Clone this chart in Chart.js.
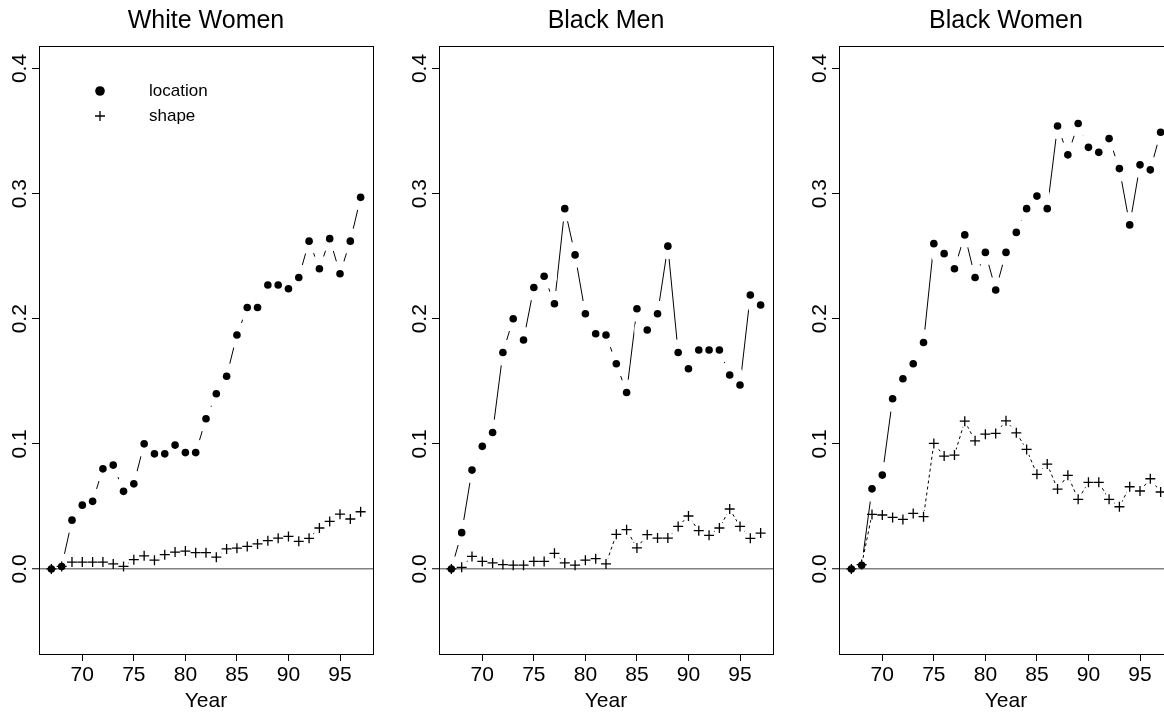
<!DOCTYPE html>
<html>
<head>
<meta charset="utf-8">
<title>Location and shape components by year</title>
<script src="https://cdn.jsdelivr.net/npm/chart.js@4.4.1/dist/chart.umd.min.js"></script>
<style>
  html, body { margin: 0; padding: 0; background: #fff; }
  #page { position: relative; width: 1164px; height: 714px; overflow: hidden; }
  #page canvas { position: absolute; top: 0; }
</style>
</head>
<body>
<div id="page">
  <canvas id="whiteWomen" width="400" height="714" style="left:0px"></canvas>
  <canvas id="blackMen" width="400" height="714" style="left:400px"></canvas>
  <canvas id="blackWomen" width="400" height="714" style="left:800px"></canvas>
</div>
<script>
// ==========================================
// DATA
// ==========================================

const years = [67, 68, 69, 70, 71, 72, 73, 74, 75, 76, 77, 78, 79, 80, 81, 82,
               83, 84, 85, 86, 87, 88, 89, 90, 91, 92, 93, 94, 95, 96, 97];

const whiteWomenLocation = [0.000, 0.002, 0.039, 0.051, 0.054, 0.080, 0.083, 0.062, 0.068, 0.100, 0.092,
                            0.092, 0.099, 0.093, 0.093, 0.120, 0.140, 0.154, 0.187, 0.209, 0.209,
                            0.227, 0.227, 0.224, 0.233, 0.262, 0.240, 0.264, 0.236, 0.262, 0.297];
const whiteWomenShape = [0.000, 0.002, 0.0055, 0.0055, 0.0055, 0.0055, 0.004, 0.002, 0.0074, 0.0105, 0.007,
                         0.0114, 0.0135, 0.0143, 0.013, 0.013, 0.0094, 0.016, 0.0166, 0.018, 0.020,
                         0.0226, 0.0246, 0.026, 0.0221, 0.0245, 0.0327, 0.038, 0.0438, 0.0399, 0.0457];

const blackMenLocation = [0.000, 0.029, 0.079, 0.098, 0.109, 0.173, 0.200, 0.183, 0.225, 0.234, 0.212,
                          0.288, 0.251, 0.204, 0.188, 0.187, 0.164, 0.141, 0.208, 0.191, 0.204,
                          0.258, 0.173, 0.160, 0.175, 0.175, 0.175, 0.155, 0.147, 0.219, 0.211];
const blackMenShape = [0.000, 0.0013, 0.010, 0.006, 0.0048, 0.0035, 0.003, 0.003, 0.006, 0.006, 0.0125,
                       0.0048, 0.003, 0.007, 0.0082, 0.004, 0.0277, 0.0314, 0.0168, 0.0274, 0.0247,
                       0.0247, 0.034, 0.0423, 0.0306, 0.0269, 0.0327, 0.0479, 0.034, 0.0245, 0.0287];

const blackWomenLocation = [0.000, 0.003, 0.064, 0.075, 0.136, 0.152, 0.164, 0.181, 0.260, 0.252, 0.240,
                            0.267, 0.233, 0.253, 0.223, 0.253, 0.269, 0.288, 0.298, 0.288, 0.354,
                            0.331, 0.356, 0.337, 0.333, 0.344, 0.320, 0.275, 0.323, 0.319, 0.349];
const blackWomenShape = [0.000, 0.0035, 0.0436, 0.0431, 0.0412, 0.0396, 0.0444, 0.0418, 0.1003, 0.0902, 0.091,
                         0.1181, 0.1024, 0.1077, 0.1083, 0.1184, 0.1088, 0.0955, 0.0756, 0.0838, 0.0638,
                         0.0748, 0.0556, 0.0692, 0.0692, 0.0556, 0.0497, 0.0657, 0.0623, 0.0721, 0.0615];

const yearTicks = [70, 75, 80, 85, 90, 95];
const valueTicks = [0.0, 0.1, 0.2, 0.3, 0.4];

// ==========================================
// SHARED STYLE
// ==========================================

const FONT = '"Liberation Sans", Arial, Helvetica, sans-serif';
Chart.defaults.font.family = FONT;
Chart.defaults.color = '#000';

const toPoints = (vals) => years.map((yr, i) => ({ x: yr, y: vals[i] }));

// Box around the plotting region
const framePlugin = {
    id: 'frame',
    afterDraw(chart) {
        const { ctx, chartArea: a } = chart;
        ctx.save();
        ctx.strokeStyle = '#000';
        ctx.lineWidth = 1;
        ctx.strokeRect(a.left + 0.5, a.top + 0.5, a.right - a.left, a.bottom - a.top);
        ctx.restore();
    }
};

// Connecting lines stop short of each marker (like type = "b" in R).
// The line is clipped away inside a circle of radius `gap` round every point,
// then the markers are drawn again on top.
const gappedLines = {
    id: 'gappedLines',
    beforeDatasetDraw(chart, args) {
        const ds = chart.data.datasets[args.index];
        if (!ds.gap) return;
        const ctx = chart.ctx;
        ctx.save();
        args.meta.data.forEach(pt => {
            ctx.beginPath();
            ctx.rect(0, 0, chart.width, chart.height);
            ctx.arc(pt.x, pt.y, ds.gap, 0, Math.PI * 2);
            ctx.clip('evenodd');
        });
    },
    afterDatasetDraw(chart, args) {
        const ds = chart.data.datasets[args.index];
        if (!ds.gap) return;
        const ctx = chart.ctx;
        ctx.restore();
        args.meta.data.forEach(pt => pt.draw(ctx, chart.chartArea));
    }
};

// Small key inside the plot: marker, then label
const keyPlugin = {
    id: 'key',
    afterDraw(chart, args, opts) {
        if (!opts.display) return;
        const { ctx, chartArea: a } = chart;
        ctx.save();
        ctx.font = opts.fontSize + 'px ' + FONT;
        ctx.textBaseline = 'middle';
        chart.data.datasets.forEach((ds, i) => {
            const y = a.top + opts.top + i * opts.rowHeight;
            ctx.fillStyle = ds.pointBackgroundColor;
            ctx.strokeStyle = ds.pointBorderColor;
            ctx.lineWidth = ds.pointBorderWidth;
            Chart.helpers.drawPoint(ctx, {
                pointStyle: ds.pointStyle,
                radius: ds.keyRadius,
                borderWidth: ds.pointBorderWidth,
                rotation: 0
            }, a.left + opts.markerX, y);
            ctx.fillStyle = '#000';
            ctx.fillText(ds.label, a.left + opts.textX, y);
        });
        ctx.restore();
    }
};

// ==========================================
// PANELS
// ==========================================

const makePanel = (canvasId, title, locationVals, shapeVals, showKey) => {
    const ctx = document.getElementById(canvasId).getContext('2d');
    return new Chart(ctx, {
        type: 'line',
        data: {
            datasets: [{
                label: 'location',
                data: toPoints(locationVals),
                borderColor: '#000',
                borderWidth: 1,
                tension: 0,
                pointStyle: 'circle',
                pointRadius: 3.8,
                keyRadius: 4.8,
                pointBackgroundColor: '#000',
                pointBorderColor: '#000',
                pointBorderWidth: 0,
                gap: 13
            }, {
                label: 'shape',
                data: toPoints(shapeVals),
                borderColor: '#000',
                borderWidth: 1,
                borderDash: [3, 3],
                tension: 0,
                pointStyle: 'cross',
                pointRadius: 5,
                keyRadius: 5,
                pointBackgroundColor: '#000',
                pointBorderColor: '#000',
                pointBorderWidth: 1.3,
                gap: 6
            }]
        },
        options: {
            responsive: false,
            animation: false,
            events: [],
            layout: {
                padding: { top: 0, right: 27, bottom: 0, left: 0 }
            },
            scales: {
                x: {
                    type: 'linear',
                    min: 65.8,
                    max: 98.2,
                    afterBuildTicks: (scale) => {
                        scale.ticks = yearTicks.map(v => ({ value: v }));
                    },
                    afterFit: (scale) => { scale.height = 60; },
                    border: { display: false },
                    grid: {
                        drawOnChartArea: false,
                        drawTicks: true,
                        tickLength: 7,
                        tickColor: '#000',
                        tickWidth: 1
                    },
                    ticks: {
                        padding: 2,
                        color: '#000',
                        font: { size: 21 },
                        maxRotation: 0,
                        autoSkip: false
                    },
                    title: {
                        display: true,
                        text: 'Year',
                        color: '#000',
                        font: { size: 21 },
                        padding: { top: 0, bottom: 0 }
                    }
                },
                y: {
                    type: 'linear',
                    min: -0.068,
                    max: 0.418,
                    afterBuildTicks: (scale) => {
                        scale.ticks = valueTicks.map(v => ({ value: v }));
                    },
                    afterFit: (scale) => { scale.width = 39; },
                    border: { display: false },
                    grid: {
                        drawOnChartArea: true,
                        drawTicks: true,
                        tickLength: 7,
                        tickColor: '#000',
                        tickWidth: 1,
                        color: (c) => (c.tick && c.tick.value === 0 ? '#808080' : 'rgba(0,0,0,0)'),
                        lineWidth: (c) => (c.tick && c.tick.value === 0 ? 1.5 : 1)
                    },
                    ticks: {
                        color: '#000',
                        font: { size: 21 },
                        minRotation: 90,
                        maxRotation: 90,
                        crossAlign: 'center',
                        padding: -2.6,
                        autoSkip: false,
                        callback: (v) => Number(v).toFixed(1)
                    }
                }
            },
            plugins: {
                legend: { display: false },
                tooltip: { enabled: false },
                title: {
                    display: true,
                    text: title,
                    fullSize: false,
                    color: '#000',
                    font: { size: 25, weight: 'normal' },
                    padding: { top: 6.5, bottom: 9.5 }
                },
                key: {
                    display: showKey,
                    fontSize: 17,
                    markerX: 61,
                    textX: 110,
                    top: 45,
                    rowHeight: 25
                }
            }
        },
        plugins: [gappedLines, framePlugin, keyPlugin]
    });
};

makePanel('whiteWomen', 'White Women', whiteWomenLocation, whiteWomenShape, true);
makePanel('blackMen', 'Black Men', blackMenLocation, blackMenShape, false);
makePanel('blackWomen', 'Black Women', blackWomenLocation, blackWomenShape, false);
</script>
</body>
</html>
